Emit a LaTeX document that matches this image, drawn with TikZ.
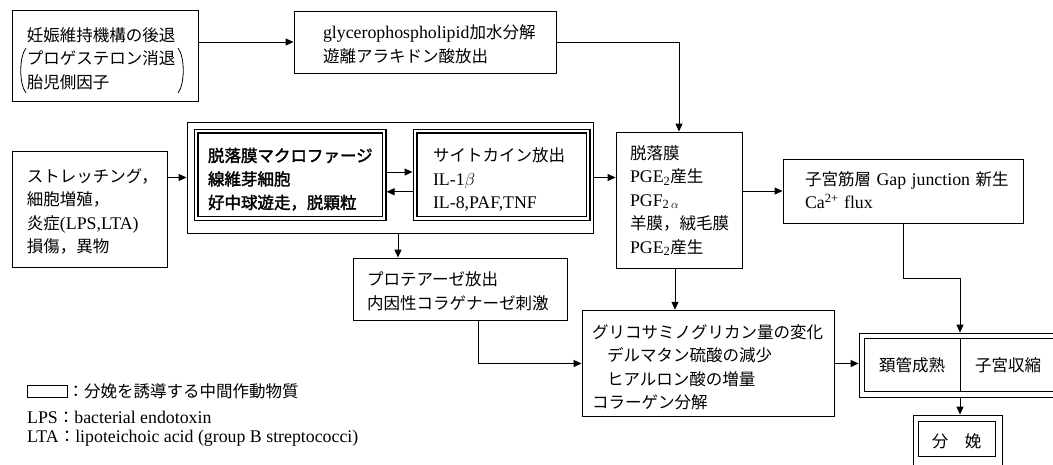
\documentclass[tikz,border=0pt]{standalone}
\usepackage{fontspec}
\setmainfont{Noto Sans CJK JP}[AutoFakeBold=2]
\newfontfamily\lat{Liberation Serif}[Scale=1.08]
\usetikzlibrary{arrows.meta,calc}
\newcommand{\fst}[1][0pt]{\rule{0pt}{\dimexpr 20pt+#1\relax}}
\newcommand{\lst}{\rule[-8pt]{0pt}{0pt}}
\begin{document}
\begin{tikzpicture}[x=1pt,y=-1pt,
  font=\fontsize{16.5}{23.5}\selectfont,
  box/.style={draw,line width=0.9pt,inner sep=0pt,align=left},
  dbox/.style={draw,line width=1.1pt,double,double distance=2.8pt,inner sep=0pt,outer sep=2.5pt,align=left},
  arr/.style={line width=1pt,-{Triangle[length=8pt,width=7pt]}},
  paren/.style={line width=0.8pt},
  plain/.style={inner sep=0pt}]
\useasboundingbox (0,0) rectangle (1053,464);

% boxes
\node[box,minimum width=186pt,minimum height=91pt,text width=156pt] (n1) at (105,55.5)
  {\fst[6pt]妊娠維持機構の後退\\プロゲステロン消退\\胎児側因子\lst};
\draw[paren] (26,48) .. controls (19,57) and (19,84) .. (26,93);
\draw[paren] (178,48) .. controls (185,57) and (185,84) .. (178,93);
\node[box,minimum width=262pt,minimum height=62pt,text width=204pt] (n2) at (425,42)
  {\fst[5pt]{\lat glycerophospholipid}加水分解\\遊離アラキドン酸放出\lst};
\node[box,minimum width=155pt,minimum height=116pt,text width=125pt] (n3) at (89.5,209)
  {\fst[5pt]ストレッチング，\\細胞増殖，\\炎症{\lat (LPS,LTA)}\\損傷，異物\lst};
\node[box,minimum width=406pt,minimum height=111pt] (nO) at (390,177.5) {};
\node[dbox,minimum width=188pt,minimum height=87.5pt,text width=164pt] (nA) at (290,174.75)
  {\bfseries\fst[9pt]脱落膜マクロファージ\\線維芽細胞\\好中球遊走，脱顆粒\lst};
\node[dbox,minimum width=173pt,minimum height=87.5pt,text width=137pt] (nB) at (501.5,174.75)
  {\fst[9pt]サイトカイン放出\\{\lat IL-1}$\beta$\\{\lat IL-8,PAF,TNF}\lst};
\node[box,minimum width=126pt,minimum height=136pt,text width=98pt] (nD) at (679,200)
  {\fst 脱落膜\\{\lat PGE\textsubscript{2}}産生\\{\lat PGF\textsubscript{2\,$\alpha$}}\\羊膜，絨毛膜\\{\lat PGE\textsubscript{2}}産生\lst};
\node[box,minimum width=240pt,minimum height=64pt,text width=196pt] (nG) at (903,191)
  {\fst\mbox{子宮筋層 {\lat Gap junction} 新生}\\{\lat Ca\textsuperscript{2+} flux}\lst};
\node[box,minimum width=214pt,minimum height=62pt,text width=186pt] (nP) at (460,289)
  {\fst[5pt]プロテアーゼ放出\\内因性コラゲナーゼ刺激\lst};
\node[box,minimum width=252pt,minimum height=101pt,text width=232pt] (nC) at (708,363.5)
  {\fst[8pt]グリコサミノグリカン量の変化\\\hspace*{15pt}デルマタン硫酸の減少\\\hspace*{15pt}ヒアルロン酸の増量\\コラーゲン分解\lst};
\node[dbox,double distance=4.5pt,outer sep=3.4pt,minimum width=218pt,minimum height=58.5pt] (nR) at (971,365.25) {};
\node[plain] (nR1) at (912,365) {\fst 頚管成熟\lst};
\node[plain] (nR2) at (1008,365) {\fst 子宮収縮\lst};
\draw[line width=1pt] (960,338.6) -- (960,391.9);
\node[box,minimum width=89pt,minimum height=75pt] (nLo) at (957.5,452.5) {};
\node[box,minimum width=77pt,minimum height=35pt] (nL) at (956.5,438.5) {\fst[6pt]分　娩\lst};

% legend
\node[box,minimum width=40pt,minimum height=12pt] (lg) at (47,391) {};
\node[plain,anchor=west] (lgt) at (lg.east) {\fst：分娩を誘導する中間作動物質\lst};
\node[plain,anchor=base west] (lps) at (27,423) {{\lat LPS}：{\lat bacterial endotoxin}};
\node[plain,anchor=base west] (lta) at (27,442) {{\lat LTA}：{\lat lipoteichoic acid (group B streptococci)}};

% connectors
\draw[arr] (n1.east |- n2.west) -- (n2.west);
\draw[arr] (n2.east) -| (nD.north);
\draw[arr] (n3.east |- nO.west) -- (nO.west);
\draw[arr] ([yshift=2.75pt]nA.east) -- ([yshift=2.75pt]nA.east -| nB.west);
\draw[arr] ([yshift=-17pt]nB.west) -- ([yshift=-17pt]nB.west -| nA.east);
\draw[arr] (nO.east) -- (nO.east -| nD.west);
\coordinate (pt) at ($(nP.north)+(-62,0)$);
\draw[arr] (pt |- nO.south) -- (pt);
\draw[arr] ($(nP.south)+(18,0)$) |- (nC.west);
\draw[arr] ([xshift=-4pt]nD.south) -- ([xshift=-4pt]nD.south |- nC.north);
\draw[arr] (nD.east |- nG.west) -- (nG.west);
\coordinate (dv) at (960,0);
\draw[arr] (nG.south) -- ++(0,55) -| (dv |- nR.north);
\draw[arr] (dv |- nR.south) -- (dv |- nLo.north);
\draw[arr] (nC.east) -- (nC.east -| nR.west);
\end{tikzpicture}
\end{document}
